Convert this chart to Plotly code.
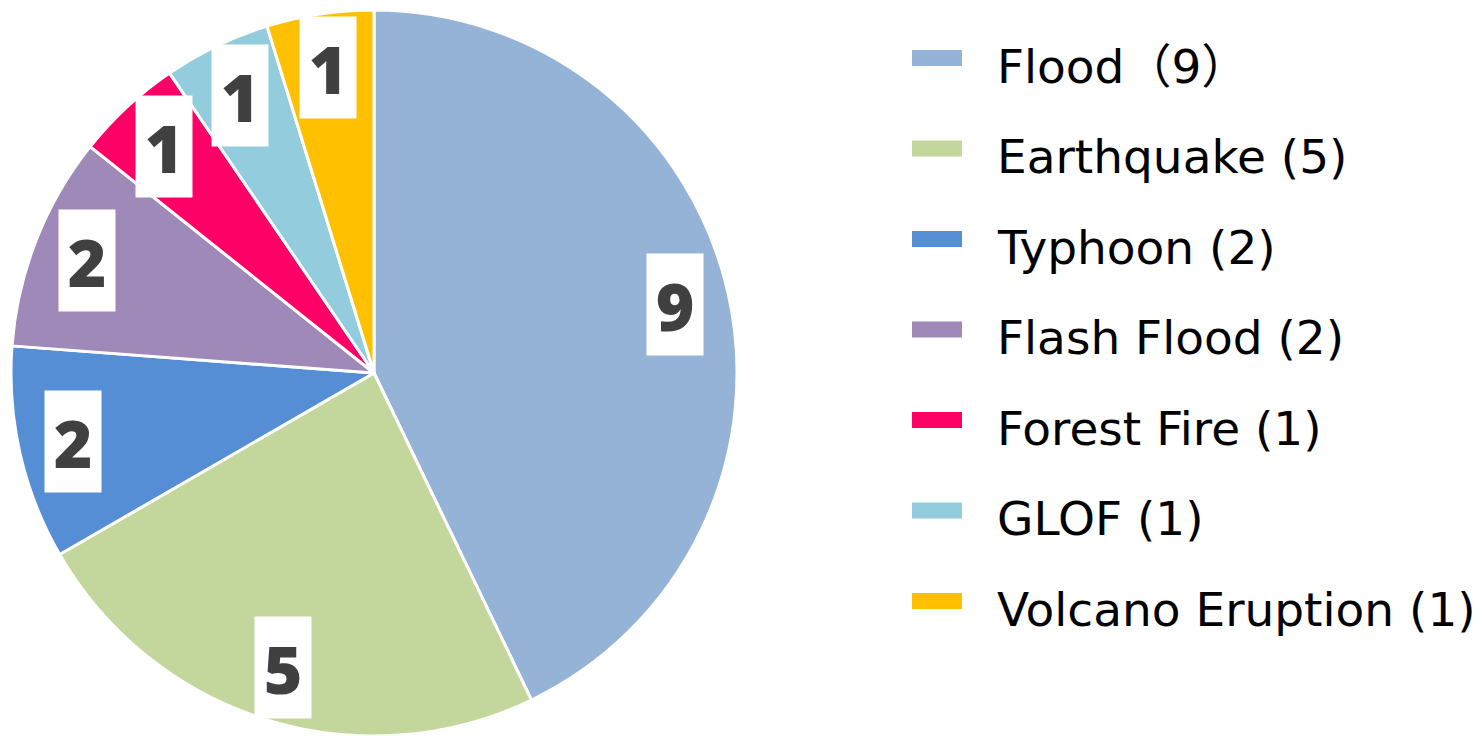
import numpy as np
import plotly.graph_objects as go

# Disaster counts by type
categories = ["Flood", "Earthquake", "Typhoon", "Flash Flood", "Forest Fire", "GLOF", "Volcano Eruption"]
counts = [9, 5, 2, 2, 1, 1, 1]
legend_labels = ["Flood\uff089\uff09", "Earthquake (5)", "Typhoon (2)", "Flash Flood (2)",
                 "Forest Fire (1)", "GLOF (1)", "Volcano Eruption (1)"]
colors = ["#95b3d7", "#c3d69b", "#558ed5", "#9e89b8", "#ff0066", "#93cddd", "#ffc000"]

W, H = 1484, 736

# pie placement in pixels
pie_left, pie_right = 9, 739
pie_top, pie_bottom = 10, 736
diam = min(pie_right - pie_left, pie_bottom - pie_top)
R = diam / 2
cx = (pie_left + pie_right) / 2
cy = (pie_top + pie_bottom) / 2

fig = go.Figure()
fig.add_trace(go.Pie(
    labels=categories,
    values=counts,
    sort=False,
    direction="clockwise",
    rotation=0,
    marker=dict(colors=colors, line=dict(color="white", width=3)),
    textinfo="none",
    hoverinfo="label+value",
    showlegend=False,
    domain=dict(x=[pie_left / W, pie_right / W], y=[1 - pie_bottom / H, 1 - pie_top / H]),
))

annotations = []
shapes = []

# value labels in white boxes, placed at each slice's mid angle
total = sum(counts)
cum = np.cumsum([0] + counts)
label_r = 0.85 * R
for i, v in enumerate(counts):
    theta = np.deg2rad((cum[i] + v / 2) / total * 360)
    px = cx + label_r * np.sin(theta)
    py = cy - label_r * np.cos(theta)
    annotations.append(dict(
        x=px / W, y=1 - py / H, xref="paper", yref="paper",
        text=str(v), showarrow=False,
        font=dict(family="Open Sans", size=66, color="#404040", weight=800),
        bgcolor="white", width=54, height=99,
        xanchor="center", yanchor="middle",
    ))

# legend on the right
row0, row_step = 66, 90.5
for i, (lab, col) in enumerate(zip(legend_labels, colors)):
    ry = row0 + i * row_step
    shapes.append(dict(
        type="rect", xref="paper", yref="paper",
        x0=912 / W, x1=962 / W, y0=1 - (ry - 16) / H, y1=1 - (ry - 0) / H,
        fillcolor=col, line=dict(width=0),
    ))
    annotations.append(dict(
        x=995 / W, y=1 - ry / H, xref="paper", yref="paper",
        text=lab, showarrow=False, xanchor="left", yanchor="middle",
        font=dict(family="DejaVu Sans, Noto Sans CJK JP", size=47, color="black"),
    ))

fig.update_layout(
    width=W, height=H,
    margin=dict(l=0, r=0, t=0, b=0),
    paper_bgcolor="white", plot_bgcolor="white",
    annotations=annotations, shapes=shapes,
)

fig.write_html("out.html")
